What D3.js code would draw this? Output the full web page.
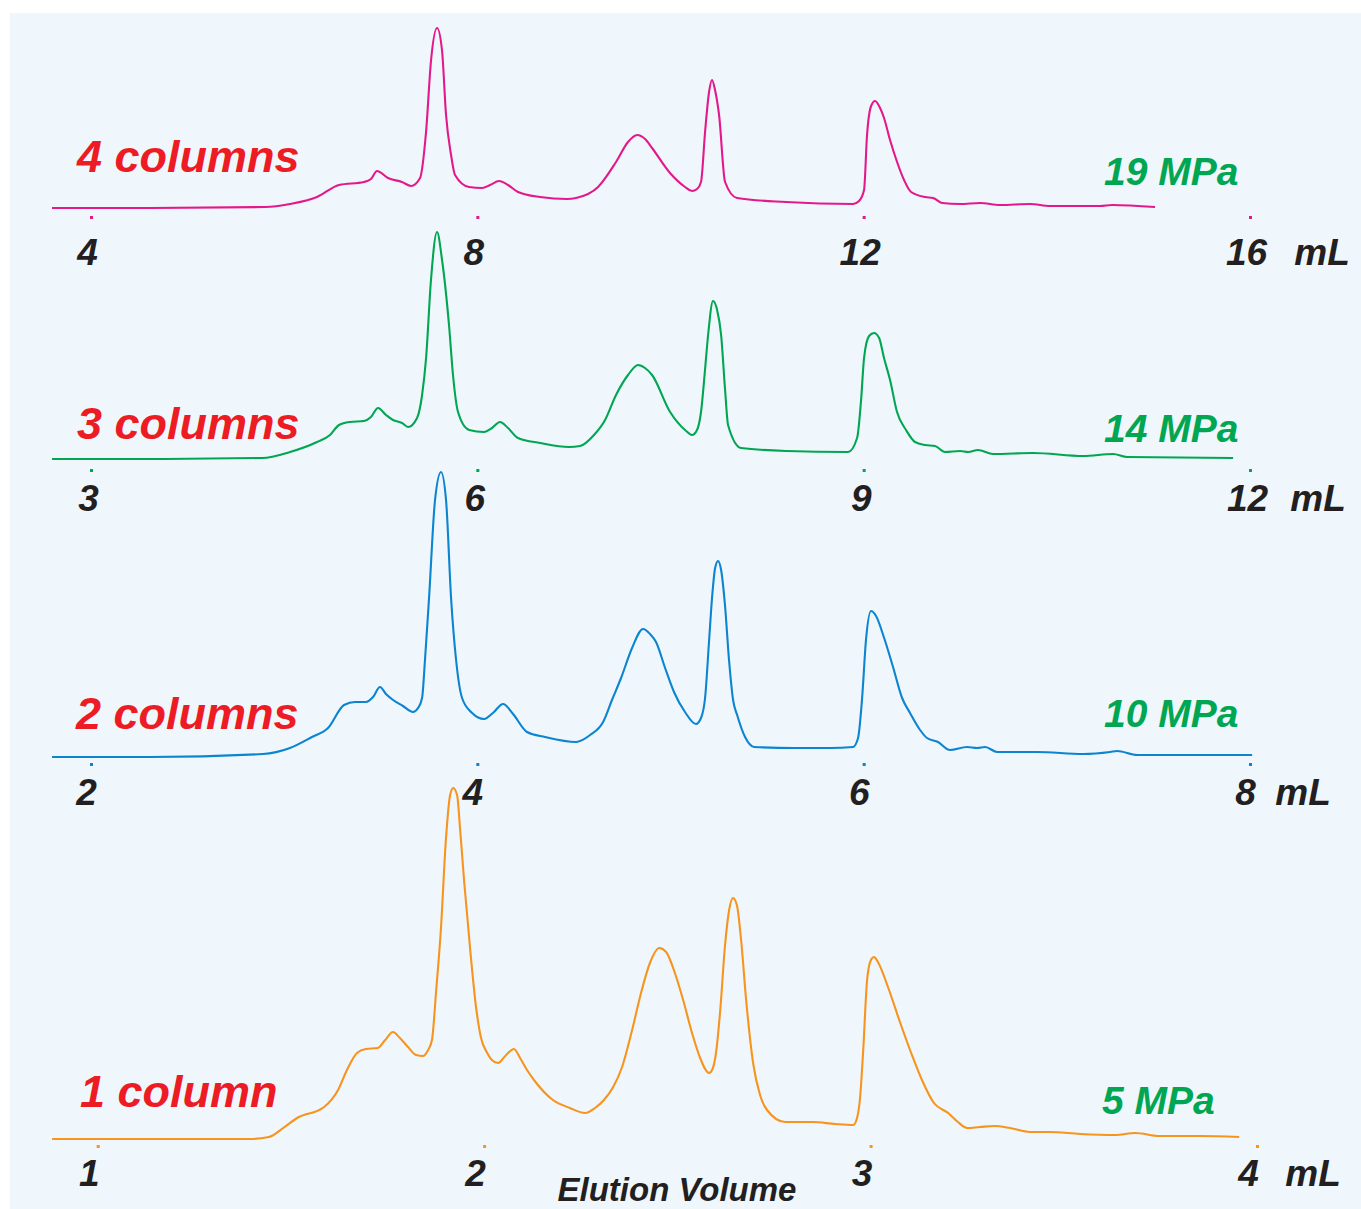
<!DOCTYPE html>
<html>
<head>
<meta charset="utf-8">
<script src="https://cdn.jsdelivr.net/npm/d3@7"></script>
<style>
  html, body { margin: 0; padding: 0; background: #ffffff; }
  svg { display: block; }
  text { font-family: "Liberation Sans", Arial, sans-serif; font-weight: bold; font-style: italic; }
</style>
</head>
<body>
<svg id="chart" width="1361" height="1209"></svg>
<script>
// ---------- DATA ----------
const panelNames = ["4 columns", "3 columns", "2 columns", "1 column"];
const pressures  = ["19 MPa", "14 MPa", "10 MPa", "5 MPa"];
const seriesColors = ["#e3198b", "#00a651", "#0c84cf", "#f7941d"];

const ticks4 = [4, 8, 12, 16];
const ticks3 = [3, 6, 9, 12];
const ticks2 = [2, 4, 6, 8];
const ticks1 = [1, 2, 3, 4];

// 4 columns (19 MPa) : elution volume (mL) and detector signal (a.u.)
const vol4 = [3.596,4.611,5.802,6.061,6.340, 6.568,6.827,6.899,6.961,7.075, 7.220,7.314,7.407,7.469,7.521,
  7.583,7.634,7.676,7.728,7.769, 7.914,8.049,8.132,8.225,8.318, 8.421,8.649,8.929,9.022,9.250,
  9.436,9.560,9.654,9.737,9.809, 9.995,10.151,10.223,10.275,10.316, 10.358,10.399,10.430,10.461,10.503,
  10.565,10.689,11.196,11.890,11.952, 12.004,12.035,12.077,12.118,12.170, 12.211,12.273,12.346,12.418,12.491,
  12.636,12.719,12.812,12.998,13.205, 13.412,13.723,13.930,14.448,14.572, 15.017];
const sig4 = [1,1,2,5,12, 24,27,30,38,31, 27,23,31,77,149, 181,159,94,54,34, 22,21,24,28,24,
  17,12,10,11,22, 47,67,74,70,61, 36,22,18,20,27, 77,117,129,119,94, 27,11,7,5,8,
  19,74,103,108,101, 91,69,47,29,17, 12,11,6,5,6, 4,5,3,3,4, 2];

// 3 columns (14 MPa)
const vol3 = [2.697,3.458,4.328,4.545,4.755, 4.856,4.926,5.011,5.120,5.174, 5.229,5.291,5.345,5.415,5.462,
  5.532,5.571,5.602,5.640,5.687, 5.726,5.780,5.811,5.850,5.936, 6.052,6.114,6.176,6.238,6.316,
  6.487,6.712,6.798,6.906,6.992, 7.077,7.170,7.248,7.302,7.357, 7.497,7.613,7.667,7.706,7.737,
  7.768,7.792,7.830,7.862,7.893, 7.924,7.947,8.048,8.397,8.879, 8.949,8.980,9.003,9.042,9.081,
  9.120,9.158,9.205,9.259,9.329, 9.399,9.477,9.554,9.632,9.749, 9.811,9.888,10.005,10.316,10.704,
  10.937,11.046,11.869];
const sig3 = [1,1,2,8,18, 25,35,38,39,43, 52,45,40,37,33, 42,65,102,180,228, 200,135,85,48,30,
  28,32,38,32,22, 17,13,14,25,40, 65,85,95,92,85, 48,30,25,30,48, 90,125,159,150,125,
  70,35,12,9,8, 22,60,102,124,127, 122,102,80,48,30, 18,15,14,8,9, 8,10,6,7,4, 6,3,2];

// 2 columns (10 MPa)
const vol2 = [1.798,2.305,2.890,3.030,3.144, 3.227,3.310,3.367,3.424,3.460, 3.496,3.527,3.564,3.615,3.667,
  3.693,3.714,3.729,3.750,3.781, 3.812,3.838,3.864,3.890,3.921, 3.973,4.035,4.081,4.133,4.185,
  4.257,4.351,4.511,4.584,4.651, 4.697,4.744,4.801,4.858,4.894, 4.925,4.972,5.018,5.075,5.132,
  5.158,5.179,5.200,5.215,5.231, 5.246,5.262,5.282,5.303,5.324, 5.345,5.386,5.433,5.645,5.826,
  5.945,5.971,5.992,6.012,6.038, 6.064,6.106,6.152,6.199,6.240, 6.292,6.328,6.385,6.447,6.535,
  6.587,6.629,6.691,6.898,7.136, 7.276,7.312,7.416,8.011];
const sig2 = [1,1,4,10,21, 30,53,56,56,61, 71,64,58,52,46, 50,60,98,160,258, 286,258,160,98,60,
  45,39,45,54,44, 26,21,16,23,36, 58,80,110,129,124, 116,90,66,46,34, 40,60,118,160,190,
  197,188,153,98,58, 43,21,11,10,10, 11,20,60,118,147, 142,120,91,60,45, 28,20,16,8,11,
  10,11,6,6,4, 6,7,3,3];

// 1 column (5 MPa)
const vol1 = [0.882,1.135,1.394,1.443,1.480, 1.516,1.586,1.622,1.645,1.671, 1.694,1.725,1.744,1.764,1.782,
  1.803,1.824,1.842,1.855,1.865, 1.876,1.888,1.901,1.912,1.920, 1.930,1.938,1.948,1.964,1.979,
  1.992,2.008,2.020,2.036,2.057, 2.077,2.093,2.111,2.129,2.178, 2.222,2.261,2.287,2.310,2.334,
  2.357,2.383,2.406,2.429,2.453, 2.471,2.491,2.515,2.538,2.559, 2.582,2.592,2.600,2.611,2.623,
  2.634,2.644,2.654,2.665,2.678, 2.696,2.714,2.732,2.779,2.851, 2.908,2.955,2.965,2.973,2.981,
  2.991,3.001,3.009,3.019,3.045, 3.076,3.105,3.133,3.164,3.201, 3.226,3.250,3.283,3.320,3.361,
  3.413,3.462,3.542,3.633,3.685, 3.747,3.853,3.954];
const sig1 = [1,1,1,3,12, 22,33,50,70,87, 91,92,100,108,102, 93,85,84,90,100, 150,210,300,345,352,
  345,310,260,190,133, 102,87,80,77,85, 91,82,70,60,40, 32,27,32,40,53, 73,110,147,177,192,
  188,170,140,107,82, 67,72,87,130,193, 230,242,235,200,140, 77,45,30,18,18, 16,15,22,43,90,
  160,180,183,178,153, 118,87,60,37,27, 18,12,13,14,12, 8,8,6,5,7, 4,4,3];

// ---------- LAYOUT (positions only) ----------
const layout = [
  { vol: vol4, sig: sig4, ticks: ticks4, x0: 91,   x1: 1250, base: 209,  tickY: 216,  labY: 265,  labDx: -4, nameX: 77, nameY: 172,  pX: 1104, pY: 185,  mLX: 1322 },
  { vol: vol3, sig: sig3, ticks: ticks3, x0: 91,   x1: 1250, base: 460,  tickY: 469,  labY: 511,  labDx: -3, nameX: 77, nameY: 439,  pX: 1104, pY: 442,  mLX: 1318 },
  { vol: vol2, sig: sig2, ticks: ticks2, x0: 91,   x1: 1250, base: 758,  tickY: 763,  labY: 805,  labDx: -5, nameX: 76, nameY: 729,  pX: 1104, pY: 727,  mLX: 1303 },
  { vol: vol1, sig: sig1, ticks: ticks1, x0: 97.7, x1: 1257, base: 1140, tickY: 1145, labY: 1186, labDx: -9, nameX: 80, nameY: 1107, pX: 1102, pY: 1114, mLX: 1313 }
];

const svg = d3.select("#chart");

svg.append("rect")
  .attr("x", 10).attr("y", 13)
  .attr("width", 1351).attr("height", 1196)
  .attr("fill", "#eff7fd");

layout.forEach((p, i) => {
  const color = seriesColors[i];
  const x = d3.scaleLinear()
    .domain([p.ticks[0], p.ticks[p.ticks.length - 1]])
    .range([p.x0, p.x1]);
  const y = d3.scaleLinear()
    .domain([0, 400])
    .range([p.base, p.base - 400]);

  const pts = p.vol.map((v, k) => [v, p.sig[k]]);
  const line = d3.line()
    .x(d => x(d[0]))
    .y(d => y(d[1]))
    .curve(d3.curveMonotoneX);

  svg.append("path")
    .datum(pts)
    .attr("d", line)
    .attr("fill", "none")
    .attr("stroke", color)
    .attr("stroke-width", 2.1)
    .attr("stroke-linejoin", "round");

  // axis: tiny coloured ticks plus labels
  const axis = d3.axisBottom(x)
    .tickValues(p.ticks)
    .tickSize(3)
    .tickFormat(d3.format("d"));
  const g = svg.append("g")
    .attr("transform", `translate(0,${p.tickY})`)
    .call(axis);
  g.select(".domain").remove();
  g.selectAll(".tick line")
    .attr("stroke", color)
    .attr("stroke-width", 3);
  g.selectAll(".tick text")
    .attr("y", p.labY - p.tickY)
    .attr("dy", null)
    .attr("dx", p.labDx)
    .attr("fill", "#231f20")
    .style("font-size", "37px")
    .style("font-family", "'Liberation Sans', Arial, sans-serif")
    .style("font-weight", "bold")
    .style("font-style", "italic");

  svg.append("text")
    .attr("x", p.mLX).attr("y", p.labY)
    .attr("text-anchor", "middle")
    .attr("fill", "#231f20")
    .style("font-size", "37px")
    .text("mL");

  svg.append("text")
    .attr("x", p.nameX).attr("y", p.nameY)
    .attr("fill", "#ed1c24")
    .style("font-size", "45px")
    .text(panelNames[i]);

  svg.append("text")
    .attr("x", p.pX).attr("y", p.pY)
    .attr("fill", "#00a651")
    .style("font-size", "39px")
    .text(pressures[i]);
});

svg.append("text")
  .attr("x", 677).attr("y", 1201)
  .attr("text-anchor", "middle")
  .attr("fill", "#231f20")
  .style("font-size", "33px")
  .text("Elution Volume");
</script>
</body>
</html>
